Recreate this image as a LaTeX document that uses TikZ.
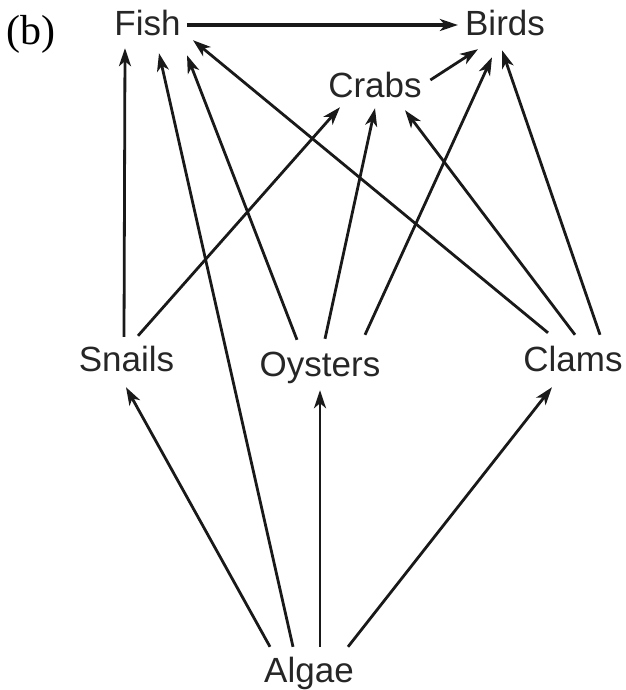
\documentclass[tikz,border=0pt]{standalone}
\usepackage{fontspec}
\setmainfont{Liberation Sans}
\newfontfamily\partfont{Liberation Serif}
\usetikzlibrary{arrows.meta}
\tikzset{
  species/.style={anchor=base,inner sep=0pt,text height=25pt,text depth=0pt,
    font=\fontsize{35}{40}\selectfont,text=black!85},
  eats/.style={-{Stealth[length=18pt,width=12pt,inset=5pt]},line width=2.8pt,black!90},
}
\begin{document}
\begin{tikzpicture}[x=1pt,y=-1pt]
  \useasboundingbox (0,0) rectangle (625,690);
  \node[anchor=base,inner sep=0pt,font=\partfont\fontsize{42}{46}\selectfont] (part) at (31,45) {(b)};
  % top level
  \node[species] (fish) at (147.5,36) {Fish};
  \node[species] (birds) at (505,36) {Birds};
  \node[species] (crabs) at (375,98) {Crabs};
  % middle level
  \node[species] (snails) at (126.5,371) {Snails};
  \node[species] (oysters) at (320,376) {Oysters};
  \node[species] (clams) at (573,371) {Clams};
  % bottom
  \node[species] (algae) at (309,682) {Algae};
  % who eats whom
  \draw[eats,line width=3.8pt] ([xshift=6pt,yshift=-1.5pt]fish.east) -- ([xshift=-7pt,yshift=-1.5pt]birds.west);
  \draw[eats] ([xshift=-2.5pt,yshift=9pt]snails.north) -- ([xshift=-22.5pt,yshift=-12pt]fish.south);
  \draw[eats] ([xshift=-16pt,yshift=10pt]algae.north) -- ([xshift=11.5pt,yshift=-17pt]fish.south);
  \draw[eats] ([xshift=-23pt,yshift=11pt]oysters.north) -- ([xshift=39.5pt,yshift=-19pt]fish.south);
  \draw[eats] ([xshift=-25pt,yshift=13pt]clams.north) -- ([xshift=45.5pt,yshift=-4pt]fish.south);
  \draw[eats] ([xshift=11.5pt,yshift=10pt]snails.north) -- ([xshift=-35pt,yshift=-9pt]crabs.south);
  \draw[eats] ([xshift=5pt,yshift=12pt]oysters.north) -- ([yshift=-10pt]crabs.south);
  \draw[eats] ([xshift=2pt,yshift=11pt]clams.north) -- ([xshift=30pt,yshift=-12pt]crabs.south);
  \draw[eats] ([xshift=8.5pt,yshift=5.5pt]crabs.east) -- ([xshift=-27pt,yshift=-13pt]birds.south);
  \draw[eats] ([xshift=45pt,yshift=16pt]oysters.north) -- ([xshift=-13pt,yshift=-21pt]birds.south);
  \draw[eats] ([xshift=27pt,yshift=11pt]clams.north) -- ([xshift=-3pt,yshift=-14pt]birds.south);
  \draw[eats] ([xshift=-39pt,yshift=10pt]algae.north) -- ([xshift=-0.5pt,yshift=-16pt]snails.south);
  \draw[eats] ([xshift=11pt,yshift=10pt]algae.north) -- ([yshift=-14pt]oysters.south);
  \draw[eats] ([xshift=39pt,yshift=10pt]algae.north) -- ([xshift=-21pt,yshift=-16pt]clams.south);
\end{tikzpicture}
\end{document}
